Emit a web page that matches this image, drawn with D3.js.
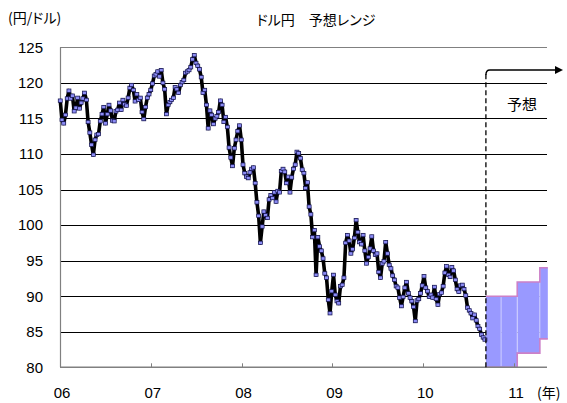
<!DOCTYPE html>
<html><head><meta charset="utf-8">
<script src="https://cdn.jsdelivr.net/npm/d3@7"></script>
<style>
body{margin:0;background:#fff}
svg{display:block}
.num{font-family:"Liberation Sans",Arial,sans-serif;font-size:15px;fill:#000}
.jp{font-family:"Noto Sans CJK JP",sans-serif;font-size:14px;fill:#000;font-feature-settings:"palt"}
</style>
</head><body><svg id="c" width="567" height="403"></svg>
<script>
const title = "ドル円　予想レンジ";
const yUnit = "(円/ドル)";
const xUnit = "(年)";
const fcLabel = "予想";
const yearTicks = ["2006-01-01","2007-01-01","2008-01-01","2009-01-01","2010-01-01","2011-01-01"];
const yearLabels = ["06","07","08","09","10","11"];
const yTicks = [80,85,90,95,100,105,110,115,120,125];

// weekly USD/JPY (Mondays from weekStart)
const weekStart = "2006-01-02";
const usdjpy = [
 // 2006
 117.5,114.8,114.3,115.5,117.8, 118.9,117.8,118.2,116.0, 116.5,117.9,116.4,117.2,
 117.8,118.6,117.6,114.5, 113.0,111.3,109.9,112.0,112.7, 112.8,114.6,115.6,116.6,
 114.3,115.6,116.9,116.1,114.7, 114.6,116.0,116.2,117.2, 116.2,117.6,117.0,116.8,
 117.9,119.3,119.7,119.0,117.4, 118.4,117.6,117.9,115.9, 114.9,116.6,117.9,118.4,
 // 2007
 119.0,119.9,121.0,121.2,121.6, 120.9,121.8,120.0,119.1, 115.6,116.9,117.3,117.6,
 117.9,119.4,119.1,118.6,119.7, 120.1,120.4,121.4,121.6, 121.8,122.2,123.3,123.9,
 122.8,122.4,121.9,120.8,118.6, 119.0,116.9,113.6,116.1, 115.5,114.2,115.0,115.3,
 115.9,117.5,116.9,114.5,115.2, 113.8,110.9,109.5,108.3, 110.8,112.0,113.2,114.0,112.0,
 // 2008
 108.5,107.3,106.8,106.6, 107.4,107.9,108.1,105.9, 103.2,101.3,97.5,99.8,101.9,
 101.4,101.0,103.6,104.2, 103.8,104.6,103.3,104.8, 104.6,107.6,107.9,107.5,105.9,
 106.8,104.6,106.7,107.9, 108.5,110.3,110.1,109.4, 107.8,107.3,105.2,106.0,102.6,
 101.5,98.3,99.3,93.0, 98.3,97.0,96.4,95.3, 93.2,92.6,89.5,87.6,90.7,
 // 2009
 93.0,90.2,89.3,89.0, 91.4,91.6,92.6,97.5, 98.6,97.8,96.0,96.6,98.2,
 100.7,99.0,97.6,97.3, 98.6,96.4,94.6,95.5, 96.7,98.4,96.4,95.8,96.0,
 93.4,92.6,94.6,94.9, 97.6,96.0,94.4,93.9,92.9, 92.3,91.4,91.2,89.8,
 88.6,89.9,91.2,92.0, 90.4,89.8,89.3,88.5,86.5, 89.4,89.6,90.4,91.5,
 // 2010
 92.8,91.2,90.7,89.9, 90.2,89.8,91.3,89.6, 88.8,90.3,90.5,91.4,93.3,
 94.2,93.0,92.7,94.1, 93.6,92.3,91.0,90.6,91.5, 91.6,91.0,90.1,88.4,
 88.0,87.6,86.9,87.4, 86.6,85.8,85.4,84.6,84.2, 83.9
];

// forecast range (period boundaries, low, high)
const fcDates = ["2010-09-10","2010-11-10","2011-01-14","2011-04-15","2011-05-17"];
const fcLow  = [80, 80, 82, 84];
const fcHigh = [90, 90, 92, 94];

const svg = d3.select("#c");
const parse = d3.utcParse("%Y-%m-%d");
const L = 60, R = 547, T = 47.3, B = 367.3;
const x = d3.scaleUtc().domain([parse("2006-01-01"), parse("2011-01-01")]).range([L, 514]);
const y = d3.scaleLinear().domain([80,125]).range([B, T]);

const t0 = parse(weekStart);
const data = usdjpy.map((v,i) => ({d: d3.utcDay.offset(t0, 7*i), v}));

// gridlines
svg.append("g").selectAll("line").data(yTicks.filter(v=>v>80)).join("line")
  .attr("x1", L).attr("x2", R)
  .attr("y1", d=>Math.round(y(d))+0.5).attr("y2", d=>Math.round(y(d))+0.5)
  .attr("stroke", d => d===125 ? "#808080" : "#000").attr("stroke-width",1);

// y labels
svg.append("g").selectAll("text").data(yTicks).join("text")
  .attr("class","num").attr("x", 43).attr("y", d=>y(d)).attr("dy","0.36em")
  .attr("text-anchor","end").text(d=>d);

// forecast band
const fc = fcLow.map((lo,i)=>({x0:parse(fcDates[i]), x1:parse(fcDates[i+1]), lo, hi:fcHigh[i]}));
svg.append("g").selectAll("rect").data(fc).join("rect")
  .attr("x", d=>x(d.x0)).attr("width", d=>x(d.x1)-x(d.x0))
  .attr("y", d=>y(d.hi)).attr("height", d=>y(d.lo)-y(d.hi))
  .attr("fill","#9999ff");
svg.append("g").selectAll("line").data(fc.slice(1)).join("line")
  .attr("x1", d=>x(d.x0)).attr("x2", d=>x(d.x0))
  .attr("y1", d=>y(d.hi)+1).attr("y2", d=>y(d.lo)-1)
  .attr("stroke","#ffffff").attr("stroke-opacity",0.5).attr("stroke-width",1);
const stepPts = key => fc.map(d=>[x(d.x0), y(d[key])]).concat([[x(fc[fc.length-1].x1), y(fc[fc.length-1][key])]]);
const stepLine = d3.line().curve(d3.curveStepAfter);
["hi","lo"].forEach(k=>{
  svg.append("path").attr("d", stepLine(stepPts(k)))
    .attr("fill","none").attr("stroke","#cc80c8").attr("stroke-width",1.6);
});

// axes
svg.append("line").attr("x1",L+0.5).attr("x2",L+0.5).attr("y1",T).attr("y2",B)
  .attr("stroke","#808080").attr("stroke-width",1.2);
svg.append("line").attr("x1",L).attr("x2",R).attr("y1",B).attr("y2",B)
  .attr("stroke","#808080").attr("stroke-width",1.4);
const yt = yearTicks.map(parse);
svg.append("g").selectAll("line").data(yt.slice(1)).join("line")
  .attr("x1", d=>Math.round(x(d))+0.5).attr("x2", d=>Math.round(x(d))+0.5)
  .attr("y1", B-4).attr("y2", B).attr("stroke","#808080");
svg.append("g").selectAll("text").data(yt).join("text")
  .attr("class","num").attr("x", d=>x(d)+2).attr("y", 398)
  .attr("text-anchor","middle").text((d,i)=>yearLabels[i]);
svg.append("text").attr("class","jp").attr("x",537).attr("y",398).text(xUnit);

// price line
svg.append("path").datum(data)
  .attr("d", d3.line().x(d=>x(d.d)).y(d=>y(d.v)))
  .attr("fill","none").attr("stroke","#000").attr("stroke-width",3.6).attr("stroke-linejoin","round");
svg.append("g").selectAll("rect").data(data).join("rect")
  .attr("x", d=>x(d.d)-2).attr("y", d=>y(d.v)-1.7).attr("width",4).attr("height",3.4)
  .attr("fill","#8c8cf5").attr("stroke","#10104a").attr("stroke-width",0.7);

// dashed divider and arrow
const xf = x(parse(fcDates[0]));
svg.append("line").attr("x1",xf).attr("x2",xf).attr("y1",B).attr("y2",74)
  .attr("stroke","#000").attr("stroke-width",1.3).attr("stroke-dasharray","5,3");
svg.append("path").attr("d",`M${xf},75 Q${xf},70 ${xf+4},70 H555`)
  .attr("fill","none").attr("stroke","#000").attr("stroke-width",1.4);
svg.append("path").attr("d",`M555,66 L563,70 L555,74 Z`).attr("fill","#000");
svg.append("text").attr("class","jp").attr("x",522).attr("y",105).attr("dy","0.35em")
  .attr("text-anchor","middle").style("font-size","15px").text(fcLabel);

// titles
svg.append("text").attr("class","jp").attr("x",8).attr("y",23).style("font-size","14px").text(yUnit);
svg.append("text").attr("class","jp").attr("x",316).attr("y",25).attr("text-anchor","middle")
  .style("font-size","14px").text(title);
</script>
</body></html>
